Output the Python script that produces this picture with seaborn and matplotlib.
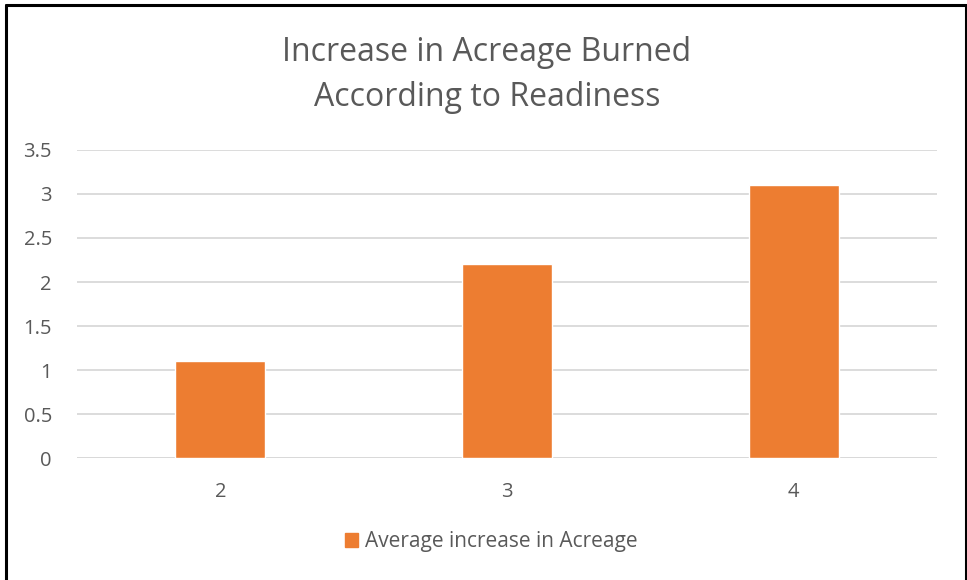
import matplotlib
matplotlib.use("Agg")
import matplotlib.pyplot as plt
from matplotlib.lines import Line2D
from matplotlib.patches import Patch
import seaborn as sns
import pandas as pd

# Readiness level vs. average increase in acreage burned
readiness = ["2", "3", "4"]
avg_increase = [1.1, 2.2, 3.1]
y_ticks = [0, 0.5, 1, 1.5, 2, 2.5, 3, 3.5]
y_tick_labels = ["0", "0.5", "1", "1.5", "2", "2.5", "3", "3.5"]
series_name = "Average increase in Acreage"
title = "Increase in Acreage Burned\nAccording to Readiness"

sns.set_theme(style="white")
plt.rcParams["font.family"] = ["Open Sans", "DejaVu Sans"]

TEXT = "#595959"
BAR = "#ED7D31"
GRID = "#D9D9D9"

df = pd.DataFrame({"readiness": readiness, "value": avg_increase})

fig = plt.figure(figsize=(9.67, 5.8), dpi=100)
ax = fig.add_axes([0.0796, 0.2103, 0.8894, 0.5311])

sns.barplot(data=df, x="readiness", y="value", color=BAR, width=0.314,
            saturation=1, ax=ax)

ax.set_ylim(0, 3.5)
ax.set_xlim(-0.5, 2.5)
ax.set_yticks(y_ticks)
ax.set_yticklabels(y_tick_labels)
ax.yaxis.grid(True, color=GRID, linewidth=1.3)
ax.set_axisbelow(True)
for s in ax.spines.values():
    s.set_visible(False)
ax.axhline(0, color=GRID, linewidth=1.3, zorder=0.5)
ax.set_xlabel("")
ax.set_ylabel("")
ax.tick_params(axis="both", length=0, labelsize=14.5, labelcolor=TEXT)
ax.tick_params(axis="y", pad=18)
ax.tick_params(axis="x", pad=17)

fig.text(0.5035, 0.871, title, ha="center", va="center", fontsize=23,
         color=TEXT, linespacing=1.47)

handle = Patch(facecolor=BAR, edgecolor=BAR)
fig.legend([handle], [series_name], loc="center", bbox_to_anchor=(0.508, 0.066),
           frameon=False, fontsize=15, labelcolor=TEXT, handlelength=0.62,
           handleheight=0.62, handletextpad=0.3)

# Frame lines around the chart
for xs, ys in [([0.0067, 0.0067], [0, 0.992]),
               ([0.0067, 0.9985], [0.992, 0.992]),
               ([0.9985, 0.9985], [0, 0.992])]:
    fig.add_artist(Line2D(xs, ys, color="black", linewidth=2.2,
                          transform=fig.transFigure))

fig.savefig("out.png", dpi=100, facecolor="white")
